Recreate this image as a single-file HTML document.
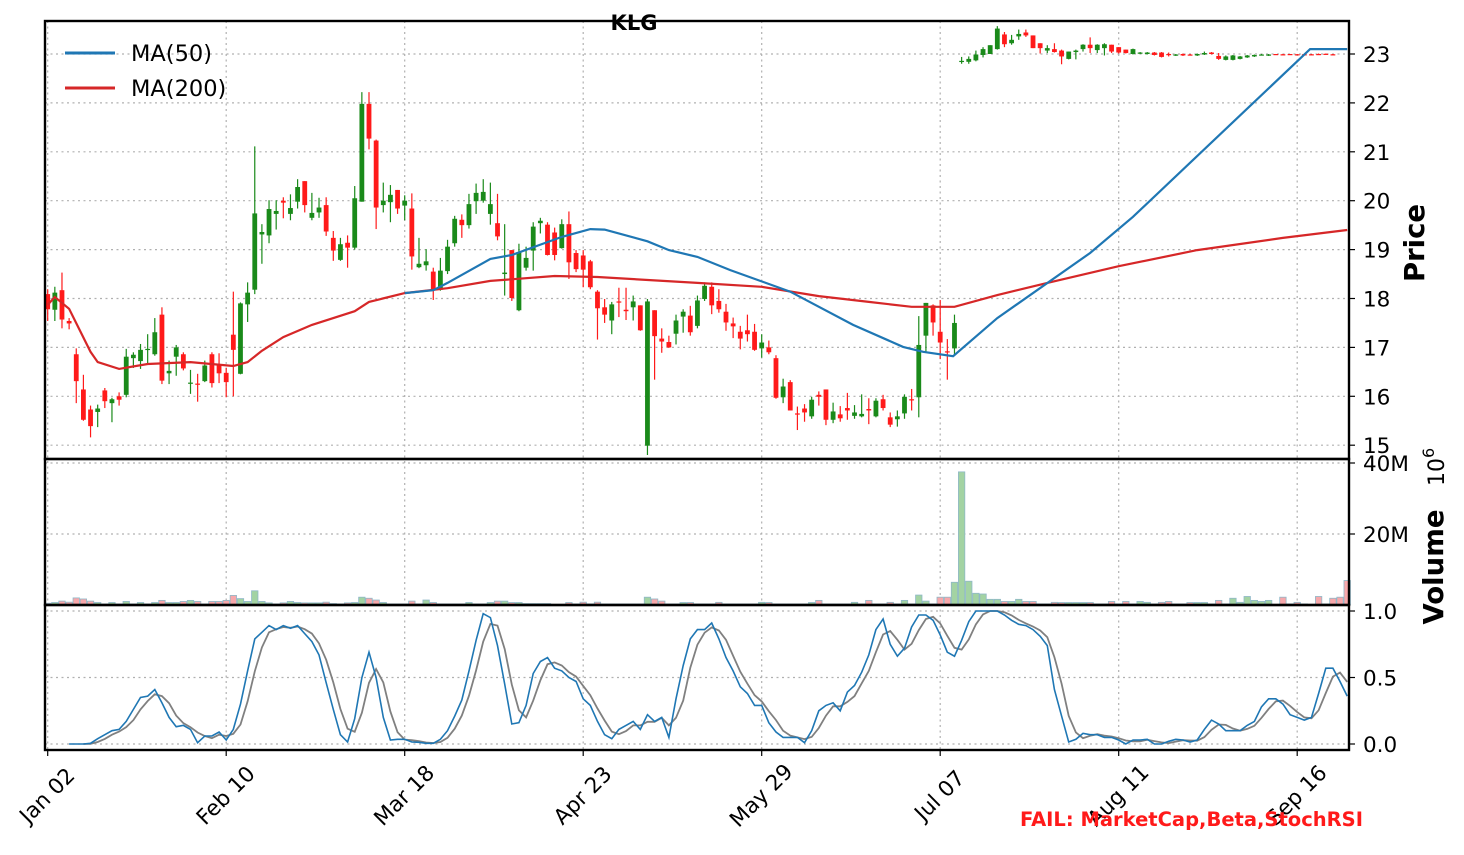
<!DOCTYPE html>
<html><head><meta charset="utf-8">
<style>
html,body{margin:0;padding:0;background:#fff;}
svg{display:block;font-family:"DejaVu Sans","Liberation Sans",sans-serif;}
</style></head>
<body>
<svg id="chart" width="1464" height="855" viewBox="0 0 1464 855" xmlns="http://www.w3.org/2000/svg">
<rect x="0" y="0" width="1464" height="855" fill="#fff"/>
<g id="grid"></g>
<g id="volume"></g>
<g id="candles"></g>
<g id="mas"></g>
<g id="stoch"></g>
<g id="frames"></g>
<g id="axes"></g>
<text x="634" y="30" text-anchor="middle" font-size="21" font-weight="bold">KLG</text>
<g>
<line x1="65" y1="53" x2="115" y2="53" stroke="#1f77b4" stroke-width="3"/>
<text x="131" y="61" font-size="22.5">MA(50)</text>
<line x1="65" y1="88" x2="115" y2="88" stroke="#d62728" stroke-width="3"/>
<text x="131" y="96" font-size="22.5">MA(200)</text>
</g>
<text transform="translate(1424,243) rotate(-90)" text-anchor="middle" font-size="27.5" font-weight="bold">Price</text>
<text transform="translate(1443,567) rotate(-90)" text-anchor="middle" font-size="27.5" font-weight="bold">Volume</text>
<text transform="translate(1444,486) rotate(-90)" font-size="22">10<tspan dy="-10" font-size="16">6</tspan></text>
<text x="1020" y="826" font-size="19.5" font-weight="bold" fill="#ff1a1a">FAIL: MarketCap,Beta,StochRSI</text>
</svg>
<script>
const opens=[18.09,17.77,18.17,17.54,16.86,16.14,15.73,15.68,16.12,15.86,16.0,16.03,16.78,16.72,16.96,16.86,17.67,16.47,16.81,16.86,16.26,16.26,16.31,16.86,16.63,16.48,17.26,16.46,17.88,18.18,19.31,19.29,19.73,20.0,19.73,19.98,20.4,19.65,19.76,19.91,19.24,18.79,19.14,19.04,19.98,21.98,21.23,19.91,19.97,20.22,19.9,19.84,18.64,18.68,18.55,18.18,18.56,19.13,19.61,19.5,19.99,20.0,19.73,19.54,18.5,18.99,17.76,18.63,18.98,19.54,19.51,19.35,19.03,19.52,18.93,18.88,18.76,18.14,17.82,17.55,17.94,17.77,17.82,17.86,14.99,17.76,17.18,17.11,17.28,17.63,17.65,17.44,17.99,18.24,17.95,17.73,17.49,17.32,17.35,17.32,16.98,17.0,16.78,15.98,16.29,15.65,15.75,15.59,16.03,16.14,15.52,15.63,15.76,15.6,15.59,15.74,15.59,15.94,15.57,15.53,15.65,15.94,15.98,17.24,17.86,17.32,16.92,16.98,
22.85,22.84,22.87,22.98,23.0,23.1,23.4,23.22,23.36,23.44,23.38,23.22,23.07,23.1,23.07,22.9,23.04,23.1,23.19,23.08,23.12,23.19,23.14,23.09,23.0,23.01,23.0,23.03,23.03,23.0,22.97,23.0,22.99,22.97,22.99,23.03,22.96,22.88,22.88,22.9,22.93,22.95,22.985,22.97,23.0,22.995,23.0,22.995,22.995,22.995,23.0,23.005,22.995];
const closes=[17.78,18.12,17.57,17.49,16.31,15.52,15.39,15.75,15.9,15.94,15.93,16.81,16.85,16.95,16.97,17.31,16.32,16.52,17.0,16.57,16.28,16.25,16.63,16.27,16.47,16.29,16.95,17.9,18.12,19.74,19.36,19.83,19.79,19.96,19.85,20.28,19.91,19.75,19.86,19.37,18.98,19.11,19.04,20.05,21.98,21.27,19.86,20.0,20.12,19.84,20.0,18.86,18.71,18.76,18.18,18.57,19.06,19.63,19.5,19.93,20.16,20.18,19.93,19.27,18.53,18.01,18.95,18.83,19.47,19.59,18.89,18.89,19.52,18.74,18.6,18.59,18.23,17.8,17.67,17.88,17.92,17.74,17.94,17.35,17.94,17.23,17.12,17.0,17.55,17.73,17.31,17.96,18.26,17.86,17.78,17.51,17.43,17.18,17.27,16.95,17.1,16.9,15.97,16.2,15.71,15.63,15.67,15.93,15.99,15.52,15.69,15.55,15.71,15.67,15.64,15.71,15.91,15.76,15.42,15.59,15.99,15.93,17.05,17.91,17.51,17.1,16.91,17.5,
22.86,22.9,22.99,23.1,23.18,23.52,23.2,23.29,23.41,23.38,23.12,23.12,23.12,23.04,22.95,23.05,23.07,23.19,23.12,23.19,23.2,23.05,23.03,23.02,23.1,23.03,23.03,22.98,22.94,22.99,22.99,22.97,22.985,23.0,23.02,23.0,22.9,22.95,22.97,22.95,22.97,22.98,22.99,22.99,22.99,22.985,22.99,22.985,22.99,22.985,22.99,22.995,22.99];
const highs=[18.19,18.24,18.53,17.6,16.98,16.44,15.81,15.83,16.17,15.97,16.08,16.97,16.9,17.07,17.27,17.6,17.82,16.73,17.05,16.9,16.54,16.46,16.73,16.9,16.88,16.58,18.14,17.92,18.33,21.11,19.52,20.01,20.01,20.07,20.13,20.44,20.4,20.16,20.06,20.07,19.38,19.24,19.29,20.3,22.22,22.22,21.25,20.37,20.32,20.22,20.11,20.15,19.24,19.01,18.63,18.83,19.2,19.69,19.72,20.14,20.35,20.44,20.37,20.14,19.52,18.99,19.12,19.06,19.56,19.65,19.56,19.45,19.62,19.78,18.99,18.99,18.79,18.17,17.99,17.93,18.22,18.22,18.06,17.86,17.99,17.76,17.39,17.24,17.67,17.78,17.85,18.06,18.33,18.33,18.19,17.89,17.61,17.44,17.67,17.48,17.27,17.14,16.84,16.36,16.33,15.79,15.84,15.99,16.1,16.14,15.87,15.8,16.07,15.82,16.04,15.96,15.96,16.03,15.67,15.71,16.04,16.15,17.64,17.91,17.88,17.97,17.17,17.67,
22.94,22.95,23.07,23.14,23.18,23.57,23.45,23.39,23.5,23.5,23.38,23.22,23.18,23.22,23.09,23.05,23.09,23.2,23.34,23.2,23.22,23.19,23.14,23.09,23.11,23.04,23.04,23.04,23.04,23.03,23.0,23.01,23.0,23.01,23.05,23.04,23.02,22.97,22.98,22.96,22.98,22.99,23.0,23.0,23.0,23.0,23.0,23.0,23.0,23.0,23.01,23.01,23.0];
const lows=[17.54,17.54,17.39,17.37,15.86,15.5,15.16,15.37,15.76,15.47,15.81,15.98,16.58,16.56,16.66,16.83,16.25,16.25,16.42,16.53,16.05,15.89,16.29,16.18,16.27,15.98,16.0,16.45,17.52,18.09,18.71,19.13,19.41,19.64,19.6,19.84,19.76,19.6,19.65,19.28,18.77,18.77,18.63,19.0,19.98,21.05,19.42,19.76,19.56,19.73,19.6,18.59,18.62,18.57,17.97,18.16,18.5,19.06,19.24,19.43,19.73,19.96,19.51,19.19,18.06,17.95,17.74,18.57,18.57,19.33,18.88,18.78,19.02,18.4,18.54,18.23,18.19,17.16,17.5,17.27,17.62,17.56,17.55,17.34,14.8,16.34,16.89,16.99,17.06,17.3,17.24,17.39,17.95,17.68,17.71,17.34,17.19,16.96,17.12,16.93,16.79,16.86,15.95,15.86,15.71,15.31,15.48,15.54,15.81,15.41,15.45,15.48,15.52,15.54,15.57,15.43,15.57,15.71,15.37,15.38,15.54,15.71,15.57,16.9,17.24,16.76,16.34,16.86,
22.8,22.8,22.85,22.93,23.0,23.09,23.14,23.19,23.29,23.35,23.12,23.01,23.02,23.03,22.79,22.89,22.89,23.05,23.02,23.02,22.97,23.02,23.01,23.01,22.99,23.0,22.99,22.97,22.93,22.95,22.96,22.96,22.98,22.96,22.98,22.99,22.88,22.87,22.87,22.89,22.92,22.94,22.98,22.96,22.98,22.98,22.98,22.98,22.98,22.98,22.98,22.99,22.98];
const volumesM=[0.5,0.7,1.1,0.8,2.0,1.7,1.1,0.7,0.3,0.7,0.3,1.0,0.3,0.7,0.3,0.7,1.3,0.7,0.7,1.0,1.3,1.0,0.3,1.0,1.0,1.3,2.7,1.8,1.0,4.0,1.0,0.6,0.3,0.6,1.0,0.7,0.6,0.6,0.6,0.8,0.4,0.3,0.6,0.7,2.2,1.9,1.4,0.7,0.3,0.3,0.3,1.1,0.3,1.4,0.7,0.3,0.3,0.3,0.3,0.7,0.3,0.3,0.7,1.1,1.1,0.7,0.7,0.4,0.4,0.4,0.4,0,0,0.7,0.3,0.8,0.3,0.8,0.3,0.3,0.3,0.3,0.3,0.3,2.2,1.7,1.1,0.3,0.3,0.7,0.7,0.3,0.3,0.3,0.75,0.3,0.3,0.3,0.3,0.3,0.75,0.7,0.3,0.3,0.3,0.3,0.3,0.7,1.3,0.3,0.3,0.3,0.3,0.75,0.3,1.3,0.3,0.3,0.75,0.3,1.3,0.3,2.8,1.1,0.3,2.2,2.2,6.4,
37.5,6.7,3.3,3.1,1.6,1.6,1.0,1.0,1.6,1.0,1.0,0.3,0.3,0.75,0.7,0.7,0.7,0.7,0.7,0.3,0.3,1.0,0.3,1.0,0.3,1.0,0.75,0.3,0.75,1.0,0.3,0.3,0.7,0.7,0.7,0.3,1.3,0.3,1.9,0.75,2.4,1.3,1.0,1.3,0,2.2,0.3,0.75,0.3,0,2.4,0.3,1.9,2.2,6.9];
const stochStart=3;
const stochK=[0,0,0,0.005,0.04,0.07,0.10,0.11,0.17,0.26,0.35,0.36,0.41,0.31,0.20,0.13,0.14,0.11,0.01,0.06,0.06,0.09,0.03,0.11,0.30,0.55,0.79,0.84,0.89,0.86,0.89,0.87,0.89,0.83,0.77,0.67,0.46,0.26,0.07,0.015,0.19,0.50,0.69,0.50,0.20,0.03,0.035,0.035,0.015,0.013,0.005,0.005,0.035,0.10,0.21,0.33,0.55,0.78,0.98,0.95,0.74,0.45,0.15,0.16,0.29,0.53,0.62,0.65,0.57,0.55,0.50,0.47,0.34,0.29,0.17,0.07,0.04,0.11,0.14,0.17,0.11,0.22,0.17,0.20,0.05,0.34,0.59,0.79,
0.86,0.86,0.91,0.79,0.65,0.55,0.43,0.38,0.29,0.29,0.16,0.09,0.05,0.05,0.05,0.01,0.10,0.25,0.29,0.31,0.25,0.39,0.44,0.54,0.67,0.86,0.94,0.75,0.66,0.72,0.88,0.97,0.97,0.93,0.82,0.69,0.66,0.78,0.92,1.0,1.0,1.0,1.0,0.97,0.93,0.90,0.89,0.86,0.81,0.74,0.41,0.21,0.015,0.035,0.08,0.07,0.07,0.05,0.05,0.03,0.0,0.03,0.03,0.035,0.0,0.0,0.02,0.035,0.03,0.015,0.03,0.11,0.18,0.15,0.10,0.10,0.10,0.14,0.17,0.28,0.34,0.34,0.30,0.22,0.20,0.18,0.20,0.38,0.57,0.57,0.47,0.36];
const ma50Idx=[50,54,56,62,65,72,76,78,84,87,91,95.6,104,112.8,119.8,122.6,126.8,133,146,152,176.8,182];
const ma50Val=[18.11,18.17,18.32,18.81,18.89,19.26,19.42,19.41,19.17,18.99,18.85,18.58,18.14,17.46,17.01,16.91,16.82,17.6,18.93,19.67,23.10,23.10];
const ma200Idx=[0,1,3,6,7,10,14,20,26,28,30,33,37,43,45,50,56,62,71,77,91,100,108,115,121,127,133,140,150,161,173,182];
const ma200Val=[17.87,18.03,17.79,16.91,16.70,16.56,16.66,16.70,16.62,16.70,16.93,17.21,17.46,17.74,17.93,18.11,18.21,18.36,18.46,18.44,18.32,18.24,18.05,17.93,17.83,17.83,18.07,18.32,18.66,18.99,19.24,19.40];
const priceTicks=[15,16,17,18,19,20,21,22,23];
const volTicks=[20,40];
const volTickLabels=["20M","40M"];
const stochTicks=[0,0.5,1.0];
const stochTickLabels=["0.0","0.5","1.0"];
const dateTickIdx=[0,25,50,75,100,125,150,175];
const dateTickLabels=["Jan 02","Feb 10","Mar 18","Apr 23","May 29","Jul 07","Aug 11","Sep 16"];

const NS="http://www.w3.org/2000/svg";
const L=45,R=1349,T1=21,B1=459,B2=605,B3=750;
const xS=i=>47.7+7.14*i;
const yP=p=>54+(23-p)*48.9;
const yV=v=>605-3.55*v;
const yS=s=>744-133*s;
function mk(tag,attrs,parent){const e=document.createElementNS(NS,tag);for(const k in attrs)e.setAttribute(k,attrs[k]);parent.appendChild(e);return e;}
const grid=document.getElementById('grid'),vol=document.getElementById('volume'),cand=document.getElementById('candles'),mas=document.getElementById('mas'),st=document.getElementById('stoch'),fr=document.getElementById('frames'),ax=document.getElementById('axes');
const gs={stroke:"#b0b0b0","stroke-width":1.2,"stroke-dasharray":"2,3.5"};
const FS=21.5;
dateTickIdx.forEach((d,k)=>{
  const x=xS(d);
  const g=mk('line',Object.assign({x1:x,x2:x,y1:T1,y2:B3},gs),grid);
  
  
  const t=mk('line',{x1:x,x2:x,y1:B3,y2:B3+6,stroke:"#000","stroke-width":1.2},ax);
  
  
  const tx=mk('text',{transform:`translate(${x},${B3+46}) rotate(-45)`,"text-anchor":"middle","dominant-baseline":"central","font-size":FS},ax);
  tx.textContent=dateTickLabels[k];
  
  
});
function rtick(y,label,name){
  const t=mk('line',{x1:R,x2:R+6,y1:y,y2:y,stroke:"#000","stroke-width":1.2},ax);
  
  
  const tx=mk('text',{x:R+14,y:y+8,"font-size":FS},ax);
  tx.textContent=label;
  
  
}
priceTicks.forEach(p=>{
  const y=yP(p);
  const g=mk('line',Object.assign({x1:L,x2:R,y1:y,y2:y},gs),grid);
  
  
  rtick(y,String(p),'price');
});
volTicks.forEach((v,k)=>{
  const y=yV(v);
  const g=mk('line',Object.assign({x1:L,x2:R,y1:y,y2:y},gs),grid);
  
  
  rtick(y,volTickLabels[k],'volume');
});
stochTicks.forEach((s,k)=>{
  const y=yS(s);
  const g=mk('line',Object.assign({x1:L,x2:R,y1:y,y2:y},gs),grid);
  
  
  rtick(y,stochTickLabels[k],'stoch');
});
volumesM.forEach((v,i)=>{
  if(v<=0)return;
  const up=closes[i]>=opens[i];
  const y=yV(v);
  const r=mk('rect',{x:xS(i)-3.2,y:y,width:6.4,height:B2-y,fill:up?"#a3d3a3":"#f7a8ab",stroke:"#8fb8c8","stroke-width":0.8},vol);
  
  
});
opens.forEach((o,i)=>{
  const c=closes[i],up=c>=o,col=up?"#1a8a1a":"#ff1a1a",x=xS(i);
  const w=mk('line',{x1:x,x2:x,y1:yP(highs[i]),y2:yP(lows[i]),stroke:col,"stroke-width":1.2},cand);
  
  
  const yt=yP(Math.max(o,c)),yb=yP(Math.min(o,c));
  const b=mk('rect',{x:x-2.4,y:yt,width:4.8,height:Math.max(1.2,yb-yt),fill:col},cand);
  
  
});
function poly(idx,val,col,name){
  const pts=idx.map((d,k)=>xS(d).toFixed(1)+","+yP(val[k]).toFixed(1)).join(" ");
  const p=mk('polyline',{points:pts,fill:"none",stroke:col,"stroke-width":2.2},mas);
  
  
}
poly(ma200Idx,ma200Val,"#d62728","ma200-line");
poly(ma50Idx,ma50Val,"#1f77b4","ma50-line");
const dVals=stochK.map((v,k)=>k<2?null:(stochK[k]+stochK[k-1]+stochK[k-2])/3);
const kp=stochK.map((v,k)=>xS(stochStart+k).toFixed(1)+","+yS(v).toFixed(1)).join(" ");
const dp=dVals.map((v,k)=>v===null?null:xS(stochStart+k).toFixed(1)+","+yS(v).toFixed(1)).filter(s=>s).join(" ");
const dl=mk('polyline',{points:dp,fill:"none",stroke:"#808080","stroke-width":1.8},st);


const kl=mk('polyline',{points:kp,fill:"none",stroke:"#1f77b4","stroke-width":1.6},st);


[[T1,B1,'price-panel-frame'],[B1,B2,'volume-panel-frame'],[B2,B3,'stoch-panel-frame']].forEach(f=>{
  const r=mk('rect',{x:L,y:f[0],width:R-L,height:f[1]-f[0],fill:"none",stroke:"#000","stroke-width":2.4},fr);
  
  
});
</script>
</body></html>
